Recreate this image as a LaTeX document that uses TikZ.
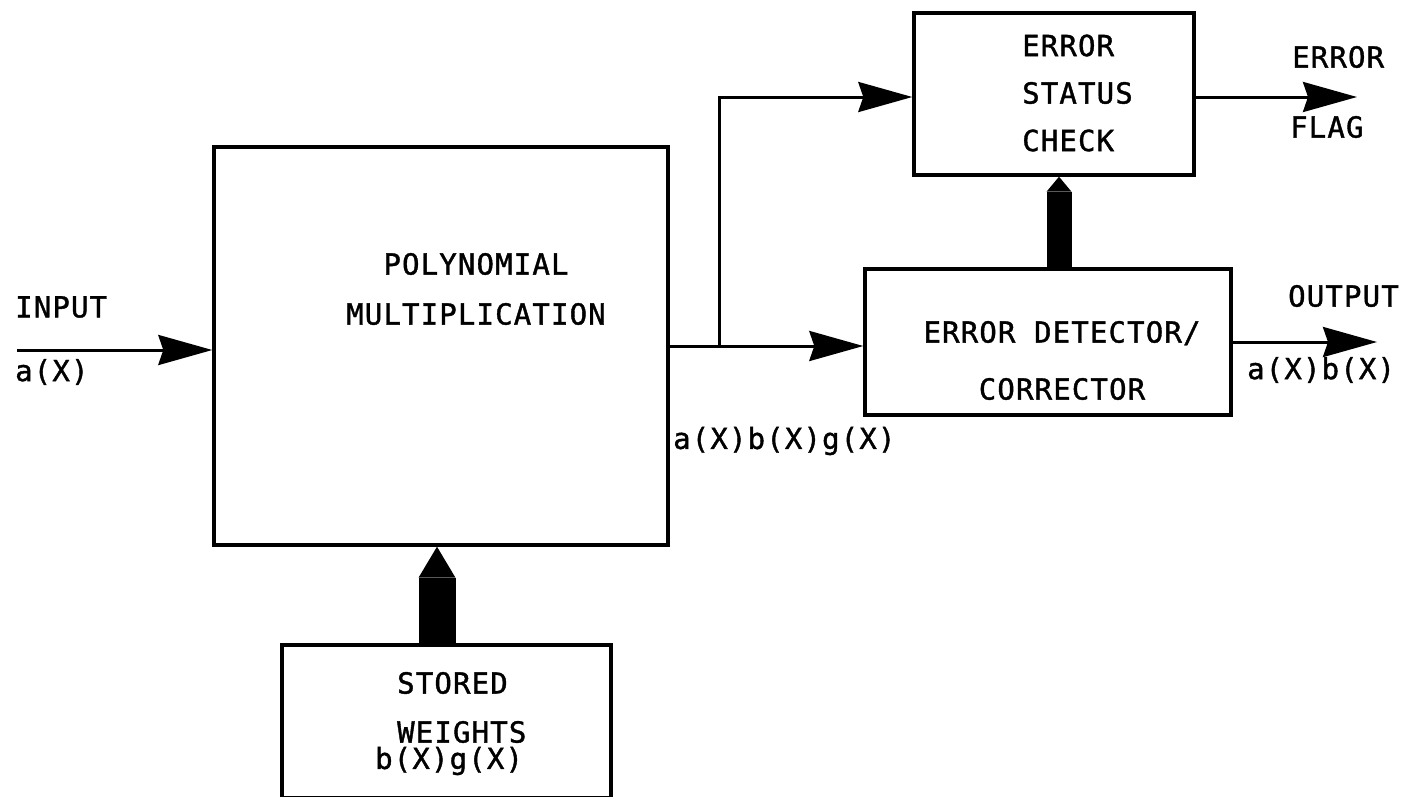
\documentclass[tikz,border=0pt]{standalone}
\usepackage{fontspec}
\newfontfamily\diagfont{DejaVu Sans Mono}[LetterSpace=4, FakeBold=1.3]
\usetikzlibrary{positioning,arrows.meta}

\begin{document}
\begin{tikzpicture}[x=1pt, y=-1pt,
    every node/.style={font=\diagfont\fontsize{29}{48}\selectfont, inner sep=0pt},
    block/.style={draw, line width=3.4pt},
    txt/.style={anchor=west, align=left},
    flow/.style={line width=3pt, -{Stealth[length=54pt, width=30pt, inset=5pt]}},
    fatarrow/.style 2 args={line width=#1, -{Triangle[length=#2, width=#1, line width=0pt]}}]
    \useasboundingbox (0,0) rectangle (1401,796);

    % blocks
    \node[block, minimum width=454pt, minimum height=398pt] (poly)    at (441,346) {};
    \node[block, minimum width=280pt, minimum height=162pt] (status)  at (1054,94) {};
    \node[block, minimum width=366pt, minimum height=146pt] (detect)  at (1048,342) {};
    \node[block, minimum width=329pt, minimum height=153pt] (weights) at (446.5,721.5) {};

    % block texts
    \node[align=center, font=\diagfont\fontsize{29}{50}\selectfont] (polytxt) at (476,289) {POLYNOMIAL\\MULTIPLICATION};
    \node[txt, font=\diagfont\fontsize{29}{47.5}\selectfont] (statustxt) at (1022,93) {ERROR\\STATUS\\CHECK};
    \node[align=center, font=\diagfont\fontsize{29}{57}\selectfont] (detecttxt) at (1062,360.5) {ERROR DETECTOR/\\CORRECTOR};
    \node[txt, font=\diagfont\fontsize{29}{49}\selectfont] (weightstxt) at (397,707.5) {STORED\\WEIGHTS};
    \node[txt] (weightspoly) at (375,761) {b(X)g(X)};

    % signal labels
    \node[txt] (inlbl)   at (15,307)   {INPUT};
    \node[txt] (inpoly)  at (15,372)   {a(X)};
    \node[txt] (prodlbl) at (673,441)  {a(X)b(X)g(X)};
    \node[txt] (errlbl)  at (1292,57)  {ERROR};
    \node[txt] (flaglbl) at (1290,127) {FLAG};
    \node[txt] (outlbl)  at (1288,296) {OUTPUT};
    \node[txt] (outpoly) at (1247,370) {a(X)b(X)};

    % connectors
    \coordinate (in)    at (17,350);
    \coordinate (split) at (719,346);
    \coordinate (flag)  at (1357,97);
    \coordinate (out)   at (1377,342);
    \coordinate (wx)    at (437,0);
    \coordinate (sx)    at (1059,0);
    \draw[flow] (in) -- (in -| poly.west);
    \draw[line width=3pt] (poly.east) -- (split);
    \draw[flow] (split) -- (split -| detect.west);
    \draw[flow] (split) |- (status.west |- flag);
    \draw[flow] (status.east |- flag) -- (flag);
    \draw[flow] (detect.east) -- (out);
    \draw[fatarrow={37pt}{31pt}] (wx |- weights.north) -- (wx |- poly.south);
    \draw[fatarrow={25pt}{15pt}] (sx |- detect.north) -- (sx |- status.south);
\end{tikzpicture}
\end{document}
